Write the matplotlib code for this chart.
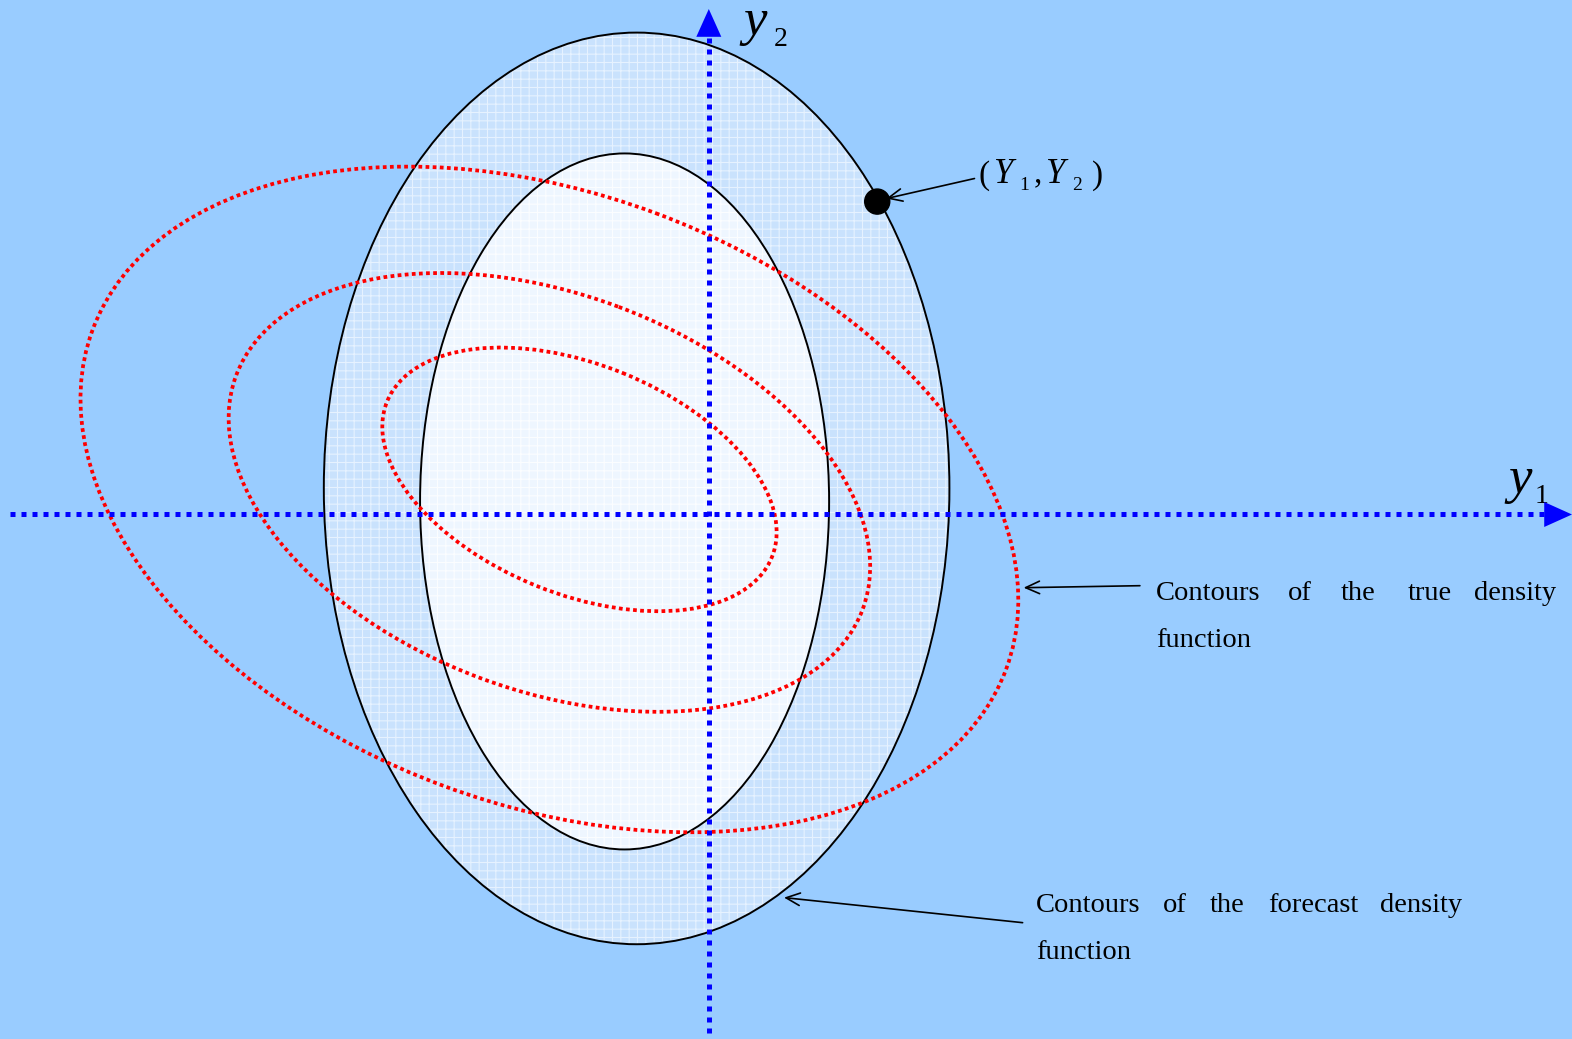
import matplotlib.pyplot as plt
from matplotlib.patches import Ellipse, Circle

plt.rcParams['hatch.linewidth'] = 0.8

# forecast density contours (axis aligned, black)
fc_cx = [635, 623]
fc_cy = [487, 500]
fc_w = [624, 408]
fc_h = [909, 694]
fc_fill = ['#c9e2fd', '#eef6ff']
fc_hatch = ['#e6f2ff', '#fbfdff']

# true density contours (tilted, red dotted)
tr_cx = [548, 548, 578]
tr_cy = [498, 491, 478]
tr_w = [972, 667, 414]
tr_h = [609, 395, 229]
tr_ang = [20.4, 20.5, 22.0]

# observed point (Y1, Y2)
obs_x, obs_y = 875, 201

# justified annotation words: (word, x) per line
true_line1 = [('Contours', 1153), ('of', 1285), ('the', 1337), ('true', 1404), ('density', 1470)]
fcst_line1 = [('Contours', 1033), ('of', 1160), ('the', 1207), ('forecast', 1265), ('density', 1376)]

W, H = 1568, 1036
fig = plt.figure(figsize=(15.72, 10.39), dpi=100)
fig.patch.set_facecolor('#99ccff')
ax = fig.add_axes([0, 0, 1, 1])
ax.set_xlim(0, W)
ax.set_ylim(H, 0)
ax.axis('off')

# forecast contours: filled with a fine grid texture, then black outline
for cx, cy, w, h, fc, hc in zip(fc_cx, fc_cy, fc_w, fc_h, fc_fill, fc_hatch):
    ax.add_patch(Ellipse((cx, cy), w, h, facecolor=fc, edgecolor=hc, lw=0,
                         hatch='++', zorder=1))
    ax.add_patch(Ellipse((cx, cy), w, h, facecolor='none', edgecolor='black',
                         lw=1.4, zorder=2))

# true density contours
for cx, cy, w, h, a in zip(tr_cx, tr_cy, tr_w, tr_h, tr_ang):
    ax.add_patch(Ellipse((cx, cy), w, h, angle=a, facecolor='none',
                         edgecolor='#ff0000', lw=2.7, linestyle=(0, (1, 0.9)), zorder=3))

# coordinate axes (dotted blue with filled heads)
blue = '#0000ff'
ax.plot([10, 1545], [513, 513], color=blue, lw=3.6, linestyle=(0, (1, 1.2)), zorder=4)
ax.plot([707, 707], [1030, 30], color=blue, lw=3.6, linestyle=(0, (1, 1.2)), zorder=4)
head = dict(arrowstyle='-|>,head_length=2.0,head_width=0.9', color=blue, lw=0,
            shrinkA=0, shrinkB=0)
ax.annotate('', xy=(1568, 513), xytext=(1530, 513), arrowprops=head, zorder=5)
ax.annotate('', xy=(707, 9), xytext=(707, 45), arrowprops=head, zorder=5)

# axis labels: italic letter with a plain, lowered subscript
ital = dict(family='Liberation Serif', style='italic', fontsize=38, va='baseline')
sub = dict(family='Liberation Serif', fontsize=20, va='baseline')
ax.text(1505, 492, 'y', **ital)
ax.text(1531, 502, '1', **sub)
ax.text(742, 35, 'y', **ital)
ax.text(772, 46, '2', **sub)

# observed point
thin = dict(arrowstyle='->,head_length=1.0,head_width=0.45', color='black', lw=1.2,
            shrinkA=0, shrinkB=0)
ax.annotate('', xy=(884, 198), xytext=(972, 178), arrowprops=thin, zorder=6)
ax.add_patch(Circle((obs_x, obs_y), 12.5, color='black', zorder=7))
big = dict(family='Liberation Serif', fontsize=24, va='baseline')
bigi = dict(family='Liberation Serif', style='italic', fontsize=25, va='baseline')
small = dict(family='Liberation Serif', fontsize=14, va='baseline')
ax.text(976, 183, '(', **big)
ax.text(990, 182, 'Y', **bigi)
ax.text(1017, 189, '1', **small)
ax.text(1031, 182, ',', **big)
ax.text(1042, 182, 'Y', **bigi)
ax.text(1069, 189, '2', **small)
ax.text(1089, 183, ')', **big)

# labels with arrows
serif = dict(family='Liberation Serif', fontsize=20.5, va='baseline')
ax.annotate('', xy=(1021, 586), xytext=(1137, 584), arrowprops=thin, zorder=6)
for word, x in true_line1:
    ax.text(x, 598, word, **serif)
ax.text(1153, 645, 'function', **serif)

ax.annotate('', xy=(782, 895), xytext=(1020, 920), arrowprops=thin, zorder=6)
for word, x in fcst_line1:
    ax.text(x, 909, word, **serif)
ax.text(1033, 956, 'function', **serif)

fig.savefig('out.png', dpi=100, facecolor=fig.get_facecolor())
